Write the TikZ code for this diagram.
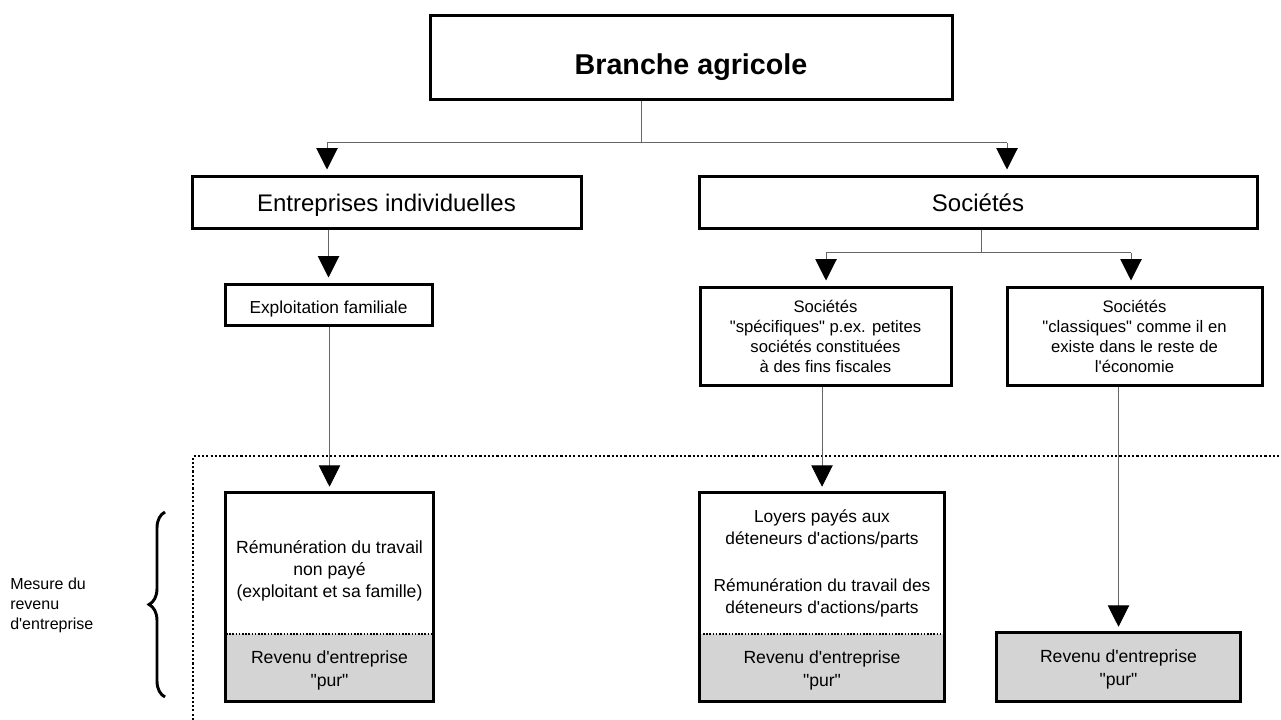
\documentclass[tikz,border=0pt]{standalone}
\usepackage{fontspec}
\setmainfont{Liberation Sans}[Ligatures=TeXOff]
\usetikzlibrary{arrows.meta,decorations.pathreplacing}

\tikzset{
  box/.style={draw=black, line width=2.25pt, inner sep=0pt, align=center},
  plain/.style={inner sep=0pt, align=center},
  pure/.style={fill=black!17, inner sep=0pt, align=center},
  link/.style={draw=black!60, line width=0.75pt},
  arr/.style={link, -{Triangle[length=16pt,width=16pt,color=black,fill=black]}, shorten >=4.5pt},
  dotline/.style={line width=1.2pt, dash pattern=on 1.2pt off 1.2pt},
  frame/.style={line width=1.6pt, dash pattern=on 1.6pt off 1.6pt},
}

\begin{document}
\begin{tikzpicture}[x=0.75pt,y=-0.75pt]
        \useasboundingbox (0,0) rectangle (1281,720);
        
        % Top level
        \node[box, minimum width=391.5pt, minimum height=63pt,
              font=\fontsize{21.5}{25}\selectfont\bfseries] (branche) at (691,58)
              {\raisebox{-7pt}[\height][\depth]{Branche agricole}};
        
        % Second level
        \node[box, minimum width=291.75pt, minimum height=39pt,
              font=\fontsize{18}{22}\selectfont] (entr) at (386.5,203)
              {\raisebox{-1.5pt}[\height][\depth]{Entreprises individuelles}};
        \node[box, minimum width=418.5pt, minimum height=39pt,
              font=\fontsize{18}{22}\selectfont] (soc) at (978,203) {Sociétés};
        
        % Third level
        \node[box, minimum width=155.25pt, minimum height=30pt,
              font=\fontsize{13}{16}\selectfont] (expl) at (328.5,305)
              {\raisebox{-3pt}[\height][\depth]{Exploitation familiale}};
        \node[box, minimum width=188.25pt, minimum height=72.75pt,
              font=\fontsize{12.5}{15.2}\selectfont] (spec) at (825.5,336.5)
              {Sociétés\\"spécifiques" p.ex. petites\\sociétés constituées\\à des fins fiscales};
        \node[box, minimum width=191.25pt, minimum height=72.75pt,
              font=\fontsize{12.5}{15.2}\selectfont] (class) at (1134.5,336.5)
              {Sociétés\\"classiques" comme il en\\existe dans le reste de\\l'économie};
        
        % Measured income, left
        \node[plain, minimum width=155pt, minimum height=105.75pt,
              font=\fontsize{13.2}{16.5}\selectfont] (remA) at (329.5,563.5)
              {\raisebox{-6pt}[\height][\depth]{\begin{tabular}{@{}c@{}}Rémunération du travail\\non payé\\(exploitant et sa famille)\end{tabular}}};
        \node[pure, minimum width=155pt, minimum height=50.25pt,
              font=\fontsize{13.2}{17}\selectfont] (purA) at (329.5,667.5)
              {\raisebox{-2pt}[\height][\depth]{\begin{tabular}{@{}c@{}}Revenu d'entreprise\\"pur"\end{tabular}}};
        
        % Measured income, middle
        \node[plain, minimum width=183pt, minimum height=105.75pt,
              font=\fontsize{13}{16.5}\selectfont] (remB) at (822,563.5)
              {Loyers payés aux\\déteneurs d'actions/parts\\[19pt]Rémunération du travail des\\déteneurs d'actions/parts};
        \node[pure, minimum width=183pt, minimum height=50.25pt,
              font=\fontsize{13.2}{17}\selectfont] (purB) at (822,667.5)
              {\raisebox{-2pt}[\height][\depth]{\begin{tabular}{@{}c@{}}Revenu d'entreprise\\"pur"\end{tabular}}};
        
        % Measured income, right
        \node[pure, minimum width=182.25pt, minimum height=51pt,
              font=\fontsize{13.2}{17}\selectfont] (purC) at (1118.5,667)
              {\raisebox{-2pt}[\height][\depth]{\begin{tabular}{@{}c@{}}Revenu d'entreprise\\"pur"\end{tabular}}};
        
        % Borders of the measured boxes
        \draw[dotline] (remA.south west) -- (remA.south east);
        \draw[dotline] (remB.south west) -- (remB.south east);
        \draw[line width=2.25pt] (remA.north west) rectangle (purA.south east);
        \draw[line width=2.25pt] (remB.north west) rectangle (purB.south east);
        \draw[line width=2.25pt] (purC.north west) rectangle (purC.south east);
        
        % Dotted frame
        \draw[frame] (193,720) -- (193,456) -- (1281,456);
        
        % Brace and its label
        \draw[decorate, decoration={brace, amplitude=12pt}, line width=2.2pt] (165,697) -- (165,512);
        \node[anchor=west, align=left, inner sep=0pt,
              font=\fontsize{12}{15}\selectfont] (mesure) at (10,605)
              {Mesure du\\revenu\\d'entreprise};
        
        % Split below the top box
        \coordinate (split) at (641,143);
        \coordinate (jEntr) at (327,143);
        \coordinate (jSoc) at (1007,143);
        \draw[link] (branche.south -| split) -- (split);
        \draw[link] (jEntr) -- (jSoc);
        \draw[arr] (jEntr) -- (jEntr |- entr.north);
        \draw[arr] (jSoc) -- (jSoc |- soc.north);
        
        % Split below Sociétés
        \coordinate (splitB) at (981,253);
        \coordinate (jSpec) at (826,253);
        \coordinate (jClass) at (1131,253);
        \draw[link] (soc.south -| splitB) -- (splitB);
        \draw[link] (jSpec) -- (jClass);
        \draw[arr] (jSpec) -- (jSpec |- spec.north);
        \draw[arr] (jClass) -- (jClass |- class.north);
        
        % Straight arrows
        \draw[arr] (expl.north |- entr.south) -- (expl.north);
        \draw[arr] (remA.north |- expl.south) -- (remA.north);
        \draw[arr] (remB.north |- spec.south) -- (remB.north);
        \draw[arr] (purC.north |- class.south) -- (purC.north);
\end{tikzpicture}
\end{document}
